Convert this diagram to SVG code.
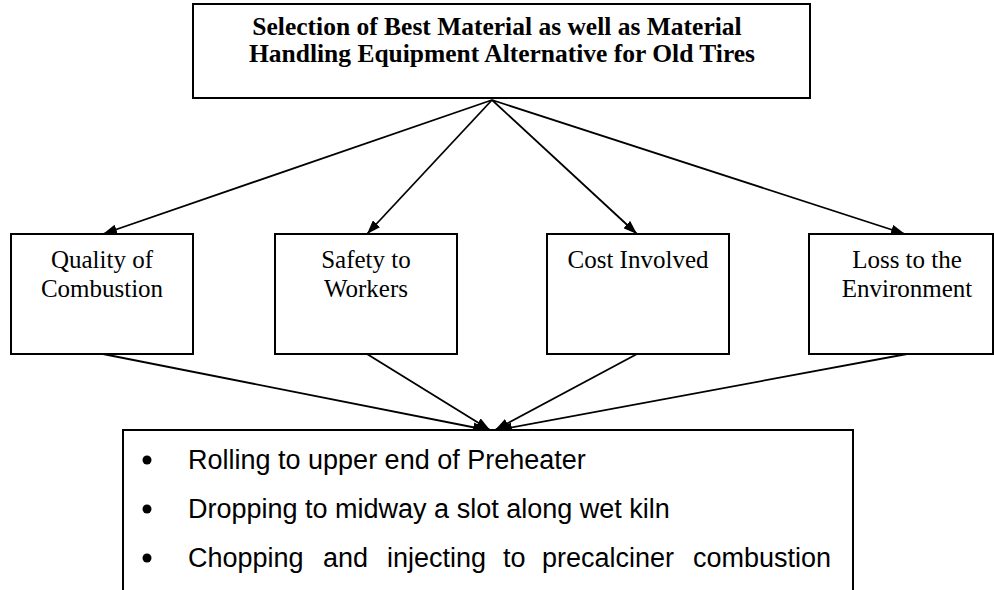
<svg xmlns="http://www.w3.org/2000/svg" width="994" height="590" viewBox="0 0 994 590">
<defs>
<marker id="ah" viewBox="0 0 14 10" refX="14" refY="5" markerWidth="14" markerHeight="10" markerUnits="userSpaceOnUse" orient="auto">
<path d="M0,0 L14,5 L0,10 Z" fill="#000"/>
</marker>
</defs>
<style>
.box{fill:#fff;stroke:#000;stroke-width:2}
.ser{font-family:"Liberation Serif","Times New Roman",serif;font-size:25px;fill:#000;text-anchor:middle}
.title{font-weight:bold;font-size:25.5px}
.san{font-family:"Liberation Sans",Arial,sans-serif;font-size:27px;fill:#000}
.con line{stroke:#000;stroke-width:1.8;marker-end:url(#ah)}
</style>
<rect width="994" height="590" fill="#fff"/>
<g class="con">
<line x1="492" y1="100" x2="103" y2="234"/>
<line x1="492" y1="100" x2="367" y2="234"/>
<line x1="492" y1="100" x2="637" y2="234"/>
<line x1="492" y1="100" x2="905" y2="234"/>
<line x1="103" y1="354" x2="487" y2="430"/>
<line x1="367" y1="354" x2="490" y2="430"/>
<line x1="637" y1="354" x2="495" y2="430"/>
<line x1="907" y1="354" x2="498" y2="430"/>
</g>
<g id="goal">
<rect class="box" x="193" y="4" width="617" height="94"/>
<text class="ser title" x="497" y="35">Selection of Best Material as well as Material</text>
<text class="ser title" x="502" y="62">Handling Equipment Alternative for Old Tires</text>
</g>
<g id="quality">
<rect class="box" x="11" y="234" width="182" height="120"/>
<text class="ser" x="102" y="268">Quality of</text>
<text class="ser" x="102" y="297">Combustion</text>
</g>
<g id="safety">
<rect class="box" x="275" y="234" width="182" height="120"/>
<text class="ser" x="366" y="268">Safety to</text>
<text class="ser" x="366" y="297">Workers</text>
</g>
<g id="cost">
<rect class="box" x="547" y="234" width="182" height="120"/>
<text class="ser" x="638" y="268">Cost Involved</text>
</g>
<g id="loss">
<rect class="box" x="809" y="234" width="184" height="120"/>
<text class="ser" x="907" y="268">Loss to the</text>
<text class="ser" x="907" y="297">Environment</text>
</g>
<g id="alternatives">
<rect class="box" x="123" y="430" width="730" height="175"/>
<circle cx="147" cy="460" r="4.5"/>
<circle cx="147" cy="509" r="4.5"/>
<circle cx="147" cy="558" r="4.5"/>
<text class="san" x="188" y="469">Rolling to upper end of Preheater</text>
<text class="san" x="188" y="518">Dropping to midway a slot along wet kiln</text>
<text class="san" y="567"><tspan x="188">Chopping</tspan><tspan x="323">and</tspan><tspan x="387">injecting</tspan><tspan x="503">to</tspan><tspan x="542">precalciner</tspan><tspan x="693">combustion</tspan></text>
</g>
</svg>
